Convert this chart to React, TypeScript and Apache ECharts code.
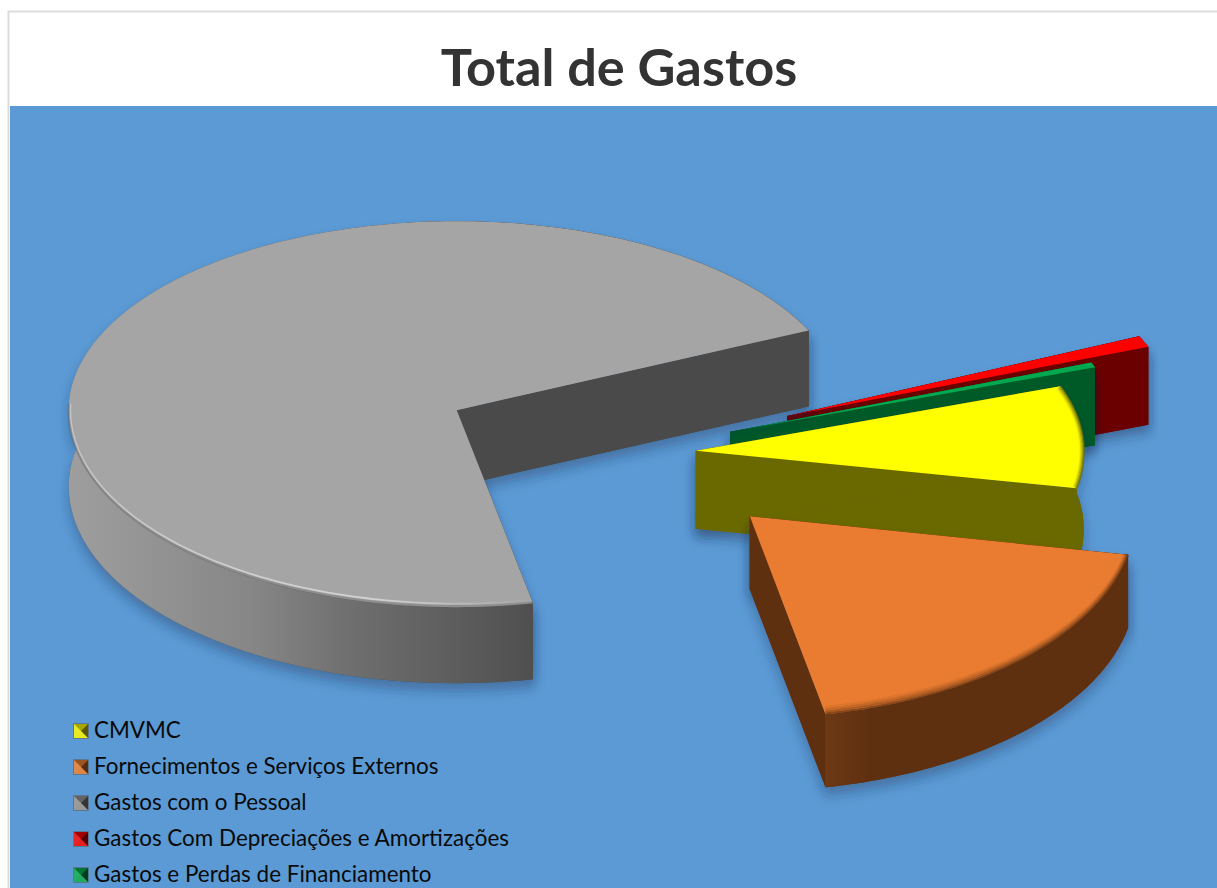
import React, { useEffect, useRef } from "react";
import * as echarts from "echarts";

const chartTitle = "Total de Gastos";
const categories = [
  "CMVMC",
  "Fornecimentos e Serviços Externos",
  "Gastos com o Pessoal",
  "Gastos Com Depreciações e Amortizações",
  "Gastos e Perdas de Financiamento",
];
const shareValues = [8.6, 18.8, 71.2, 0.95, 0.42];

const W = 1217;
const chartHeight = 960;
const centerX = 620;
const centerY = 454;
const rx = 388;
const ryBack = 189;
const ryFront = 197;
const explodeSquash = 0.53;
const firstAngle = 20; // degrees above the horizontal, running clockwise

const looks = [
  { top: "#ffff00", side: "#6a6900", cut: "#6a6900", explode: 76, lift: 0, depth: 78, kx: 1, ky: 1, z: 5, bevel: 1 },
  { top: "#e97c30", side: "#5f3010", cut: "#5f3010", explode: 183, lift: -6, depth: 73, kx: 0.993, ky: 1.025, z: 6, bevel: 1 },
  { top: "#a5a5a5", side: "#6e6e6e", cut: "#4a4a4a", explode: 183, lift: 0, depth: 76, kx: 1, ky: 1, z: 4, bevel: 0 },
  { top: "#ff0000", side: "#6b0000", cut: "#6b0000", explode: 182, lift: 0, depth: 78, kx: 1, ky: 1, z: 2, bevel: 0 },
  { top: "#00a850", side: "#005a28", cut: "#005a28", explode: 118, lift: 0, depth: 78, kx: 1, ky: 1, z: 3, bevel: 0 },
];
const legendColors = ["#e6e600", "#d9752e", "#8a8a8a", "#e00000", "#00a04a"];

const total = shareValues.reduce((a, b) => a + b, 0);
const startAngles: number[] = [];
shareValues.reduce((acc, v, i) => {
  startAngles[i] = firstAngle - acc;
  return acc + (v / total) * 360;
}, 0);

const rad = (d: number) => (d * Math.PI) / 180;

function sliceRenderer(i: number) {
  return (_params: any, api: any) => {
    const sweep = (api.value(0) / total) * 360;
    const a0 = startAngles[i];
    const a1 = a0 - sweep;
    const look = looks[i];
    const depth = look.depth;
    const mid = rad((a0 + a1) / 2);
    const ox = centerX + look.explode * Math.cos(mid);
    const oy = centerY - explodeSquash * look.explode * Math.sin(mid) + look.lift;
    const pt = (deg: number, kx = 1, ky = 1, dy = 0) => {
      const s = Math.sin(rad(deg));
      return [
        ox + rx * look.kx * kx * Math.cos(rad(deg)),
        oy - s * (s > 0 ? ryBack : ryFront) * look.ky * ky + dy,
      ];
    };
    const arc = (from: number, to: number, kx = 1, ky = 1, dy = 0) => {
      const n = Math.max(2, Math.ceil(Math.abs(from - to)));
      const out: number[][] = [];
      for (let j = 0; j <= n; j++) out.push(pt(from + ((to - from) * j) / n, kx, ky, dy));
      return out;
    };
    const shadow = {
      shadowBlur: 12,
      shadowOffsetY: 8,
      shadowOffsetX: 0,
      shadowColor: "rgba(20,40,70,0.35)",
    };
    const topArc = arc(a0, a1);
    const bottomArc = arc(a0, a1, 1, 1, depth).reverse();
    const apex = [ox, oy];
    const apexLow = [ox, oy + depth];
    const wallPts = topArc.concat(bottomArc);
    const cutPts = (deg: number) => [apex, pt(deg), pt(deg, 1, 1, depth), apexLow];
    const children: any[] = [];
    // shadow layer underneath all the faces of the slice
    [wallPts, cutPts(a0), cutPts(a1)].forEach((points) =>
      children.push({
        type: "polygon",
        shape: { points },
        style: { fill: look.cut, ...shadow },
      })
    );
    const sideFill =
      i === 2
        ? new echarts.graphic.LinearGradient(0, 0, 1, 0, [
            { offset: 0, color: "#9e9e9e" },
            { offset: 0.25, color: "#868686" },
            { offset: 0.38, color: "#6f6f6f" },
            { offset: 0.63, color: "#4f4f4f" },
            { offset: 1, color: "#4f4f4f" },
          ])
        : i === 1
        ? new echarts.graphic.LinearGradient(0, 0, 1, 0, [
            { offset: 0, color: "#6d3814" },
            { offset: 0.15, color: "#5f3010" },
            { offset: 1, color: "#5f3010" },
          ])
        : look.side;
    const cutFace = (deg: number) => ({
      type: "polygon",
      shape: { points: cutPts(deg) },
      style: { fill: look.cut },
    });
    const isBack = (deg: number) => Math.sin(rad(deg)) > 0;
    // front-facing rays sit under the outer wall, back-facing rays above it
    [a0, a1].filter((d) => !isBack(d)).forEach((d) => children.push(cutFace(d)));
    children.push({
      type: "polygon",
      shape: { points: wallPts },
      style: { fill: sideFill },
    });
    [a0, a1].filter(isBack).forEach((d) => children.push(cutFace(d)));
    children.push({
      type: "polygon",
      shape: { points: [apex].concat(topArc) },
      style: { fill: look.top },
    });
    if (look.bevel) {
      [0.7, 0.45, 0.25, 0.1].forEach((op, j) => {
        children.push({
          type: "polyline",
          shape: { points: arc(a0, a1, 1 - j * 0.003, 1 - 0.004 - j * 0.011) },
          style: { stroke: look.side, fill: null, lineWidth: 2, opacity: op },
        });
      });
    }
    if (i === 2) {
      const end = -182;
      const gradStroke = new echarts.graphic.LinearGradient(0, 0, 1, 0, [
        { offset: 0, color: "rgba(225,225,225,0.55)" },
        { offset: 0.65, color: "rgba(235,235,235,0.65)" },
        { offset: 1, color: "rgba(235,235,235,0)" },
      ]);
      children.push({
        type: "polyline",
        shape: { points: arc(a0, end, 0.996, 0.982) },
        style: { stroke: gradStroke, fill: null, lineWidth: 1.8 },
      });
      children.push({
        type: "polyline",
        shape: { points: arc(a0, end, 1, 0.996) },
        style: { stroke: "rgba(90,90,90,0.3)", fill: null, lineWidth: 2.5 },
      });
    }
    return { type: "group", children };
  };
}

const marker = 14;
const legendLeft = 74;
const legendRowHeight = 25;
const legendPitch = 36;
const firstMarkerY = 724;
const legendTop = 716.5;

function markerFacets() {
  const out: any[] = [];
  categories.forEach((_, r) => {
    const x = legendLeft;
    const y = firstMarkerY + r * legendPitch;
    const c = [x + marker / 2, y + marker / 2];
    const tl = [x, y], tr = [x + marker, y], bl = [x, y + marker], br = [x + marker, y + marker];
    const facet = (pts: number[][], fill: string) =>
      out.push({ type: "polygon", z: 30, silent: true, shape: { points: pts }, style: { fill } });
    facet([tl, tr, br, bl], legendColors[r]);
    facet([tl, tr, c], "rgba(0,0,0,0.28)");
    facet([tr, br, c], "rgba(0,0,0,0.62)");
    facet([bl, br, c], "rgba(255,255,255,0.12)");
    facet([tl, bl, c], "rgba(255,255,255,0.15)");
    out.push({
      type: "rect",
      z: 31,
      silent: true,
      shape: { x: x - 0.5, y: y - 0.5, width: marker + 1, height: marker + 1 },
      style: { fill: "none", stroke: "rgba(90,110,130,0.8)", lineWidth: 1 },
    });
  });
  return out;
}

export default function App() {
  const ref = useRef<HTMLDivElement>(null);
  useEffect(() => {
    const chart = echarts.init(ref.current!, null, { renderer: "svg" });
    chart.setOption({
      animation: false,
      backgroundColor: "#ffffff",
      title: {
        text: chartTitle,
        left: 614,
        top: 34,
        textAlign: "center",
        textStyle: {
          fontFamily: "Lato",
          fontWeight: "bold",
          fontSize: 52.3,
          color: "#333333",
        },
      },
      legend: {
        orient: "vertical",
        left: legendLeft,
        top: legendTop,
        z: 20,
        icon: "rect",
        itemWidth: marker,
        itemHeight: 10,
        itemGap: legendPitch - legendRowHeight,
        padding: 0,
        selectedMode: false,
        data: categories,
        textStyle: {
          fontFamily: "Lato",
          fontSize: 22.45,
          color: "#0a0a0a",
          padding: [0, 0, 0, 1],
          lineHeight: legendRowHeight,
          height: legendRowHeight,
        },
      },
      graphic: {
        elements: [
          {
            type: "rect",
            z: 0,
            silent: true,
            shape: { x: 8.5, y: 11.5, width: W, height: chartHeight },
            style: { fill: "#ffffff", stroke: "#dcdcdc", lineWidth: 2 },
          },
          {
            type: "rect",
            z: 0,
            silent: true,
            shape: { x: 10, y: 106, width: W - 10, height: chartHeight - 106 },
            style: { fill: "#5b9ad5" },
          },
          ...markerFacets(),
        ],
      },
      series: categories.map((name, i) => ({
        type: "custom",
        name,
        coordinateSystem: "none",
        silent: true,
        z: looks[i].z,
        itemStyle: { color: legendColors[i] },
        data: [[shareValues[i]]],
        renderItem: sliceRenderer(i),
      })),
    });
    return () => chart.dispose();
  }, []);
  return (
    <div
      ref={ref}
      style={{ position: "fixed", left: 0, top: 0, width: W, height: chartHeight }}
    />
  );
}
